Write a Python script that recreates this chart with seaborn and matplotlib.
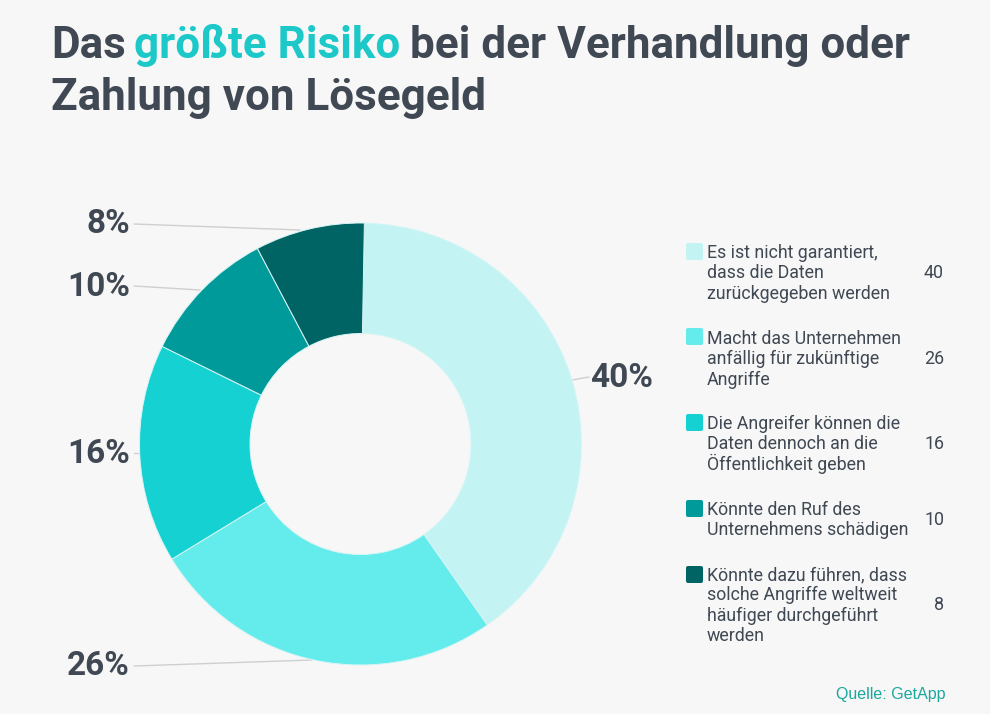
import matplotlib
matplotlib.use('Agg')
import matplotlib.pyplot as plt
import seaborn as sns
from matplotlib.patches import FancyBboxPatch

# data
values = [40, 26, 16, 10, 8]
pct_labels = ['40%', '26%', '16%', '10%', '8%']
legend_labels = [
    'Es ist nicht garantiert,\ndass die Daten\nzurückgegeben werden',
    'Macht das Unternehmen\nanfällig für zukünftige\nAngriffe',
    'Die Angreifer können die\nDaten dennoch an die\nÖffentlichkeit geben',
    'Könnte den Ruf des\nUnternehmens schädigen',
    'Könnte dazu führen, dass\nsolche Angriffe weltweit\nhäufiger durchgeführt\nwerden',
]
colors = ['#c3f4f3', '#64ebeb', '#16d1d2', '#019a9a', '#016464']

bg = '#f7f7f7'
dark = '#3f4853'
W, H = 990, 714

sns.set_theme(style='white')
plt.rcParams['font.family'] = ['Roboto', 'DejaVu Sans']

fig = plt.figure(figsize=(W / 100, H / 100), dpi=100, facecolor=bg)

# overlay in pixel coords for the texts and leader lines
ax = fig.add_axes([0, 0, 1, 1])
ax.set_xlim(0, W)
ax.set_ylim(H, 0)
ax.axis('off')

# donut
cx, cy, r = 360.5, 444, 221
pie_ax = fig.add_axes([(cx - r) / W, 1 - (cy + r) / H, 2 * r / W, 2 * r / H])
pie_ax.pie(values, colors=colors, startangle=89, counterclock=False, radius=1,
           wedgeprops=dict(width=0.5, edgecolor='#d8f5f5', linewidth=0.7))
pie_ax.set_xlim(-1, 1)
pie_ax.set_ylim(-1, 1)
pie_ax.patch.set_alpha(0)

# title
title_kw = dict(fontsize=31.7, fontweight='bold', va='baseline', color=dark)
ax.text(51, 58, 'Das', **title_kw)
ax.text(134, 58, 'größte Risiko', **{**title_kw, 'color': '#1cc8c8'})
ax.text(410, 58, 'bei der Verhandlung oder', **title_kw)
ax.text(51, 110, 'Zahlung von Lösegeld', **title_kw)

# percent labels with leader lines
label_pos = [(590, 378, 'left'), (130, 666, 'right'), (130, 454, 'right'),
             (130, 287, 'right'), (130, 224, 'right')]
leaders = [((572, 380), (589, 377)), ((134, 666), (312, 660)), ((134, 453), (141, 453)),
           ((134, 286), (200, 290)), ((134, 224), (300, 230))]
for lab, (tx, ty, ha), (p0, p1) in zip(pct_labels, label_pos, leaders):
    ax.text(tx, ty, lab, fontsize=24, fontweight='bold', color=dark, ha=ha, va='center')
    ax.plot([p0[0], p1[0]], [p0[1], p1[1]], color='#cfcfcf', lw=1, zorder=0)

# legend
swatch_tops = [243, 328, 414, 500, 566]
text_baselines = [258, 344, 429, 515, 580]
value_centers = [273, 359, 444, 520, 605]
line_step = 20.3
for lab, val, col, top, base, vy in zip(legend_labels, values, colors, swatch_tops,
                                        text_baselines, value_centers):
    ax.add_patch(FancyBboxPatch((687, top + 1), 15, 15, boxstyle='round,pad=1,rounding_size=2',
                                fc=col, ec='none'))
    # one text per line so the umlauts do not push the line spacing around
    for i, line in enumerate(lab.split('\n')):
        ax.text(707, base + i * line_step, line, fontsize=12.8, color=dark, va='baseline', ha='left')
    ax.text(944, vy, str(val), fontsize=12.9, color=dark, va='center', ha='right')

# source
ax.text(946, 694, 'Quelle: GetApp', fontsize=11.5, color='#1aa79c', ha='right', va='center',
        family=['Liberation Sans', 'DejaVu Sans'])

fig.savefig('out.png', dpi=100, facecolor=bg)
